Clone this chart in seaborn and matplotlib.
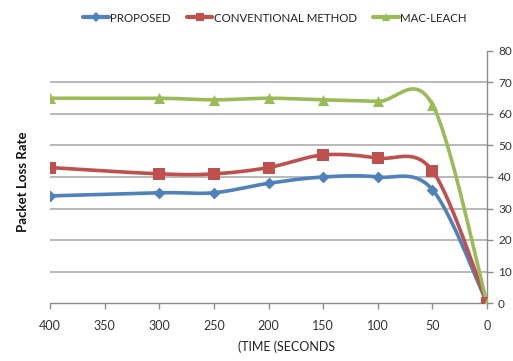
import numpy as np
import pandas as pd
import matplotlib
matplotlib.use("Agg")
import matplotlib.pyplot as plt
import seaborn as sns
from matplotlib.lines import Line2D

time = [400, 300, 250, 200, 150, 100, 50, 0]
proposed = [34, 35, 35, 38, 40, 40, 36, 0]
conventional = [43, 41, 41, 43, 47, 46, 42, 0]
mac_leach = [65, 65, 64.5, 65, 64.5, 64, 63, 0]
series_names = ["PROPOSED", "CONVENTIONAL METHOD", "MAC-LEACH"]
y_ticks = [0, 10, 20, 30, 40, 50, 60, 70, 80]
x_ticks = [400, 350, 300, 250, 200, 150, 100, 50, 0]

sns.set_theme(style="white")
plt.rcParams['font.family'] = ['Lato', 'DejaVu Sans']

colors = ["#4F81BD", "#C0504D", "#9BBB59"]
markers = ["D", "s", "^"]
msizes = [6, 8, 8]


def smooth(xs, ys, n=30):
    pts = np.column_stack([xs, ys]).astype(float)
    out = []
    for i in range(len(pts) - 1):
        p0 = pts[i - 1] if i > 0 else pts[i]
        p1 = pts[i]
        p2 = pts[i + 1]
        p3 = pts[i + 2] if i + 2 < len(pts) else pts[i + 1]
        c1 = p1 + (p2 - p0) / 6.0
        c2 = p2 - (p3 - p1) / 6.0
        t = np.linspace(0, 1, n)[:, None]
        seg = ((1 - t) ** 3) * p1 + 3 * ((1 - t) ** 2) * t * c1 + 3 * (1 - t) * t ** 2 * c2 + t ** 3 * p2
        out.append(seg if i == 0 else seg[1:])
    s = np.vstack(out)
    return s[:, 0], s[:, 1]


fig = plt.figure(figsize=(5.13, 3.61), dpi=100)
ax = fig.add_axes([50 / 513, 1 - 303 / 361, 437 / 513, 252 / 361])

rows = []
for name, vals in zip(series_names, [proposed, conventional, mac_leach]):
    sx, sy = smooth(time, vals)
    for k, (a, b) in enumerate(zip(sx, sy)):
        rows.append({"series": name, "order": k, "x": a, "y": b})
curve = pd.DataFrame(rows)
pts = pd.DataFrame({
    "series": np.repeat(series_names, len(time)),
    "x": time * 3,
    "y": proposed + conventional + mac_leach,
})

for name, c, m, ms in zip(series_names, colors, markers, msizes):
    d = curve[curve.series == name]
    ax.plot(d.x, d.y, color=c, lw=2.6, zorder=3, solid_capstyle="round")
    p = pts[pts.series == name]
    sns.scatterplot(data=p, x="x", y="y", ax=ax, marker=m, s=ms ** 2,
                    color=c, edgecolor=c, linewidth=0, zorder=4, legend=False)

ax.set_xlim(400, 0)
ax.set_ylim(0, 80)
ax.set_xticks(x_ticks)
ax.set_xticklabels([str(v) for v in x_ticks], fontsize=9, color="#333333")
ax.yaxis.tick_right()
ax.set_yticks(y_ticks)
ax.set_yticklabels([str(v) for v in y_ticks], fontsize=8.5, color="#333333")
for v in y_ticks[1:-1]:
    ax.axhline(v, color="#a6a6a6", lw=1.1, zorder=1)
for s in ["top", "left"]:
    ax.spines[s].set_visible(False)
for s in ["bottom", "right"]:
    ax.spines[s].set_color("#8c8c8c")
    ax.spines[s].set_linewidth(1.0)
ax.tick_params(axis="x", direction="out", length=4, width=1, color="#8c8c8c", pad=8, bottom=True)
ax.tick_params(axis="y", direction="out", length=4, width=1, color="#8c8c8c", pad=4, right=True, left=False)
ax.set_xlabel("")
ax.set_ylabel("")
ax.grid(False)

fig.text(23 / 513, 1 - 182 / 361, "Packet Loss Rate", rotation=90, ha="center", va="center",
         fontsize=9.5, fontweight="bold", color="#111111")
fig.text(287 / 513, 1 - 347 / 361, "(TIME (SECONDS", ha="center", va="center",
         fontsize=9, color="#222222")

handles = [Line2D([0], [0], color=c, lw=3, marker=m, markersize=ms * 0.8, markeredgewidth=0)
           for c, m, ms in zip(colors, markers, msizes)]
fig.legend(handles, series_names, loc="center", bbox_to_anchor=(275 / 513, 1 - 18 / 361),
           ncol=3, frameon=False, fontsize=8.3, handlelength=2.2, handletextpad=0.15,
           columnspacing=1.4, labelcolor="#222222")

fig.savefig("out.png", dpi=100)
